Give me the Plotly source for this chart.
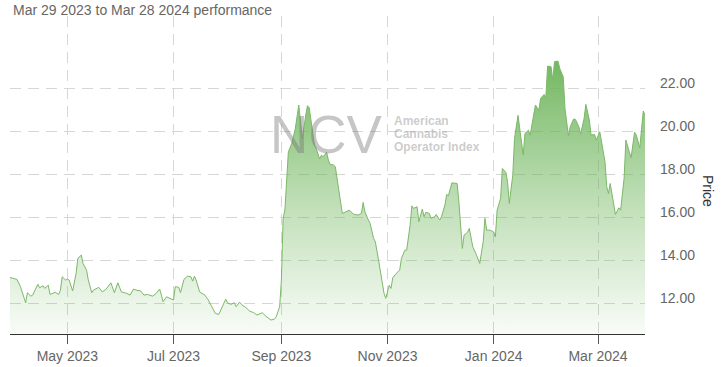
import plotly.graph_objects as go

dates = [
    "2023-03-29", "2023-04-02", "2023-04-04", "2023-04-07", "2023-04-08", "2023-04-10", "2023-04-11",
    "2023-04-14", "2023-04-15", "2023-04-17", "2023-04-18", "2023-04-20", "2023-04-21", "2023-04-23",
    "2023-04-24", "2023-04-26", "2023-04-27", "2023-04-28", "2023-04-30", "2023-05-01", "2023-05-02",
    "2023-05-04", "2023-05-06", "2023-05-07", "2023-05-09", "2023-05-10", "2023-05-12", "2023-05-13",
    "2023-05-15", "2023-05-16", "2023-05-19", "2023-05-21", "2023-05-23", "2023-05-26", "2023-05-28",
    "2023-05-30", "2023-06-01", "2023-06-04", "2023-06-06", "2023-06-08", "2023-06-10", "2023-06-12",
    "2023-06-14", "2023-06-16", "2023-06-19", "2023-06-21", "2023-06-23", "2023-06-24", "2023-06-25",
    "2023-06-27", "2023-06-29", "2023-07-01", "2023-07-02", "2023-07-04", "2023-07-05", "2023-07-07",
    "2023-07-09", "2023-07-11", "2023-07-12", "2023-07-13", "2023-07-14", "2023-07-16", "2023-07-19",
    "2023-07-21", "2023-07-23", "2023-07-25", "2023-07-27", "2023-07-29", "2023-07-31", "2023-08-01",
    "2023-08-03", "2023-08-05", "2023-08-06", "2023-08-08", "2023-08-10", "2023-08-11", "2023-08-14",
    "2023-08-16", "2023-08-18", "2023-08-21", "2023-08-23", "2023-08-26", "2023-08-28", "2023-08-29",
    "2023-08-31", "2023-09-01", "2023-09-02", "2023-09-03", "2023-09-04", "2023-09-05", "2023-09-07",
    "2023-09-09", "2023-09-11", "2023-09-12", "2023-09-13", "2023-09-15", "2023-09-16", "2023-09-17",
    "2023-09-18", "2023-09-20", "2023-09-21", "2023-09-23", "2023-09-24", "2023-09-25", "2023-09-27",
    "2023-09-28", "2023-09-29", "2023-10-01", "2023-10-02", "2023-10-03", "2023-10-05", "2023-10-06",
    "2023-10-08", "2023-10-10", "2023-10-12", "2023-10-13", "2023-10-15", "2023-10-17", "2023-10-18",
    "2023-10-19", "2023-10-21", "2023-10-22", "2023-10-24", "2023-10-25", "2023-10-27", "2023-10-29",
    "2023-10-30", "2023-10-31", "2023-11-02", "2023-11-03", "2023-11-04", "2023-11-06", "2023-11-08",
    "2023-11-09", "2023-11-11", "2023-11-12", "2023-11-14", "2023-11-15", "2023-11-16", "2023-11-18",
    "2023-11-19", "2023-11-21", "2023-11-22", "2023-11-23", "2023-11-25", "2023-11-26", "2023-11-28",
    "2023-11-29", "2023-12-01", "2023-12-02", "2023-12-04", "2023-12-05", "2023-12-06", "2023-12-08",
    "2023-12-09", "2023-12-11", "2023-12-12", "2023-12-14", "2023-12-15", "2023-12-17", "2023-12-18",
    "2023-12-20", "2023-12-22", "2023-12-24", "2023-12-26", "2023-12-27", "2023-12-28", "2023-12-30",
    "2024-01-01", "2024-01-02", "2024-01-03", "2024-01-05", "2024-01-06", "2024-01-08", "2024-01-09",
    "2024-01-10", "2024-01-12", "2024-01-13", "2024-01-15", "2024-01-16", "2024-01-18", "2024-01-19",
    "2024-01-21", "2024-01-22", "2024-01-24", "2024-01-25", "2024-01-27", "2024-01-28", "2024-01-30",
    "2024-01-31", "2024-02-01", "2024-02-03", "2024-02-04", "2024-02-05", "2024-02-07", "2024-02-08",
    "2024-02-10", "2024-02-11", "2024-02-13", "2024-02-14", "2024-02-16", "2024-02-17", "2024-02-19",
    "2024-02-20", "2024-02-22", "2024-02-23", "2024-02-25", "2024-02-26", "2024-02-28", "2024-02-29",
    "2024-03-02", "2024-03-03", "2024-03-05", "2024-03-06", "2024-03-07", "2024-03-08", "2024-03-10",
    "2024-03-11", "2024-03-13", "2024-03-14", "2024-03-16", "2024-03-17", "2024-03-19", "2024-03-20",
    "2024-03-22", "2024-03-23", "2024-03-25", "2024-03-26", "2024-03-27", "2024-03-28",
]

prices = [
    13.19, 13.10, 12.76, 12.01, 12.48, 12.32, 12.37,
    12.87, 12.71, 12.80, 12.68, 12.83, 12.40, 12.45,
    12.50, 12.40, 12.60, 13.22, 13.07, 13.11, 13.07,
    12.56, 13.38, 14.08, 14.23, 13.84, 13.53, 13.07,
    12.48, 12.60, 12.73, 12.52, 12.63, 12.94, 12.48,
    12.94, 12.52, 12.45, 12.37, 12.65, 12.59, 12.57,
    12.37, 12.40, 12.32, 12.45, 12.65, 12.37, 12.06,
    12.29, 12.23, 12.14, 12.76, 12.73, 12.48, 13.10,
    13.25, 13.22, 13.02, 13.25, 13.07, 12.52, 12.37,
    12.14, 11.83, 11.52, 11.47, 11.80, 12.18, 12.01,
    11.94, 12.01, 11.83, 12.04, 11.86, 11.83, 11.61,
    11.56, 11.44, 11.55, 11.39, 11.21, 11.25, 11.36,
    11.83, 13.07, 15.94, 16.32, 17.95, 19.03, 19.43,
    20.12, 21.21, 20.43, 19.66, 20.74, 21.18, 21.08,
    20.43, 19.35, 19.19, 18.70, 18.88, 18.80, 19.01,
    18.65, 18.45, 18.42, 18.34, 17.80, 16.87, 16.17,
    16.24, 16.32, 16.17, 16.12, 16.09, 16.17, 16.68,
    16.24, 15.86, 15.70, 15.01, 14.85, 13.92, 12.99,
    12.45, 12.22, 12.83, 12.68, 13.17, 13.38, 13.53,
    14.08, 14.46, 14.46, 15.63, 16.52, 16.40, 16.48,
    15.78, 16.37, 16.01, 16.22, 16.17, 15.94, 16.01,
    16.12, 15.86, 16.01, 16.56, 17.05, 16.99, 17.59,
    17.59, 17.56, 16.71, 14.54, 15.16, 15.29, 15.47,
    14.62, 14.26, 13.84, 14.85, 15.94, 15.39, 15.39,
    15.31, 15.08, 16.32, 16.87, 18.26, 18.08, 17.64,
    16.63, 17.95, 19.66, 20.73, 20.13, 18.88, 19.89,
    20.04, 19.81, 20.66, 21.21, 20.97, 21.52, 21.70,
    21.55, 23.02, 22.99, 22.37, 23.23, 23.25, 22.91,
    22.52, 21.05, 19.78, 20.20, 20.56, 20.54, 20.20,
    19.86, 20.59, 21.24, 20.51, 19.81, 19.84, 19.58,
    19.97, 19.50, 18.57, 17.41, 17.10, 17.56, 16.63,
    16.12, 16.43, 16.32, 17.80, 19.58, 19.03, 18.76,
    19.94, 19.81, 19.22, 19.97, 20.93, 20.74,
]

x_tick_dates = ["2023-05-01", "2023-07-01", "2023-09-01", "2023-11-01", "2024-01-01", "2024-03-01"]
x_tick_labels = ["May 2023", "Jul 2023", "Sep 2023", "Nov 2023", "Jan 2024", "Mar 2024"]
y_tick_values = [12, 14, 16, 18, 20, 22]
y_tick_labels = ["12.00", "14.00", "16.00", "18.00", "20.00", "22.00"]

subtitle = "Mar 29 2023 to Mar 28 2024 performance"
watermark = "NCV"
watermark_lines = ["American", "Cannabis", "Operator Index"]

FONT = "Liberation Sans, Arial, sans-serif"
GREEN = "108,180,89"

fig = go.Figure()
fig.add_trace(go.Scatter(
    x=dates, y=prices, mode="lines",
    line=dict(color="#7cb868", width=1),
    fill="tozeroy",
    fillgradient=dict(
        type="vertical",
        start=10.56, stop=23.25,
        colorscale=[[0, f"rgba({GREEN},0.04)"], [0.5, f"rgba({GREEN},0.45)"], [1, f"rgba({GREEN},0.95)"]],
    ),
    hoverinfo="skip", showlegend=False,
))

fig.update_layout(
    width=722, height=367,
    margin=dict(l=10, r=77, t=16, b=33),
    paper_bgcolor="white", plot_bgcolor="white",
    font=dict(family=FONT, size=14, color="#666666"),
    showlegend=False,
    xaxis=dict(
        range=["2023-03-29", "2024-03-28"],
        tickvals=x_tick_dates, ticktext=x_tick_labels,
        showgrid=True, gridcolor="#d6d6d6", gridwidth=1, griddash="11px,7px",
        showline=True, linecolor="#333333", linewidth=1,
        ticks="outside", ticklen=9, tickcolor="#555555", tickwidth=1,
        tickfont=dict(family=FONT, size=14, color="#666666"),
        zeroline=False, fixedrange=True, automargin=False,
    ),
    yaxis=dict(
        side="right",
        range=[10.56, 25.35],
        tickvals=y_tick_values, ticktext=y_tick_labels,
        showgrid=True, gridcolor="#d6d6d6", gridwidth=1, griddash="11px,7px",
        showline=False, zeroline=False,
        ticks="", ticklabelstandoff=14, ticklabelshift=-5,
        tickfont=dict(family=FONT, size=14, color="#666666"),
        fixedrange=True, automargin=False,
    ),
)

# helpers: window pixel -> paper coordinates (plot area spans x 10..645, y 16..334)
def px_x(px):
    return (px - 10) / 635.0

def px_y(py):
    return (334 - py) / 318.0

annotations = [
    dict(text=subtitle, x=px_x(11), y=px_y(10), xref="paper", yref="paper",
         xanchor="left", yanchor="middle", showarrow=False,
         font=dict(family=FONT, size=14, color="#666666")),
    dict(text="Price", x=px_x(708), y=px_y(191), xref="paper", yref="paper",
         xanchor="center", yanchor="middle", showarrow=False, textangle=90,
         font=dict(family=FONT, size=14, color="#333333")),
    dict(text=watermark, x=px_x(326), y=px_y(134), xref="paper", yref="paper",
         xanchor="center", yanchor="middle", showarrow=False,
         font=dict(family=FONT, size=53, color="rgba(120,120,120,0.42)")),
]
for line, py in zip(watermark_lines, [121, 133.5, 146.5]):
    annotations.append(dict(text="<b>" + line + "</b>", x=px_x(392), y=px_y(py), xref="paper", yref="paper",
                            xanchor="left", yanchor="middle", showarrow=False,
                            font=dict(family=FONT, size=12, color="rgba(140,140,140,0.45)")))
fig.update_layout(annotations=annotations)

fig.write_html("out.html", config={"displayModeBar": False},
               post_script="document.body.style.margin='0px';")
